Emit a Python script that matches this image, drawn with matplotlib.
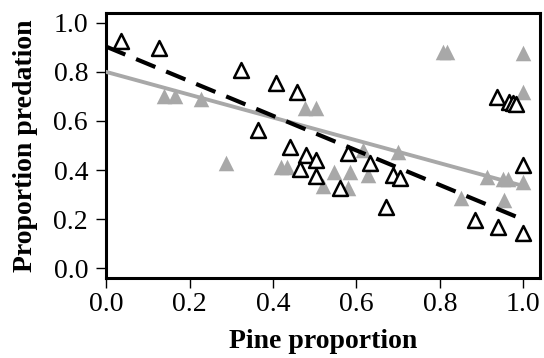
import numpy as np
import matplotlib
matplotlib.use("Agg")
import matplotlib.pyplot as plt

plt.rcParams["font.family"] = ["Liberation Serif", "DejaVu Serif"]

# open triangles
open_x = [0.036, 0.128, 0.324, 0.408, 0.458, 0.364, 0.440, 0.478, 0.502, 0.466,
          0.502, 0.581, 0.632, 0.560, 0.688, 0.704, 0.670,
          0.936, 0.965, 0.975, 0.982, 1.000, 0.884, 0.940, 1.000]
open_y = [0.924, 0.898, 0.808, 0.754, 0.720, 0.563, 0.493, 0.461, 0.441, 0.404,
          0.376, 0.471, 0.427, 0.325, 0.380, 0.366, 0.250,
          0.699, 0.679, 0.672, 0.669, 0.420, 0.196, 0.169, 0.142]

# filled grey triangles
fill_x = [0.140, 0.164, 0.228, 0.288, 0.476, 0.502, 0.419, 0.433,
          0.546, 0.584, 0.519, 0.580, 0.628, 0.616, 0.700,
          0.808, 0.817, 1.000, 1.000, 0.912, 0.952, 0.964, 1.000, 0.850, 0.953]
fill_y = [0.702, 0.702, 0.689, 0.430, 0.652, 0.652, 0.413, 0.413,
          0.393, 0.393, 0.333, 0.325, 0.380, 0.482, 0.475,
          0.883, 0.883, 0.876, 0.720, 0.370, 0.362, 0.362, 0.352, 0.284, 0.278]

# fitted lines (intercept, slope)
open_fit = (0.903, -0.705)
fill_fit = (0.800, -0.465)

grey = "#a8a8a8"

fig = plt.figure(figsize=(5.44, 3.58), dpi=100)
ax = fig.add_axes([0.195, 0.2235, 0.7976, 0.7402])

ax.scatter(fill_x, fill_y, marker="^", s=125, color=grey, linewidths=0, zorder=2)
ax.scatter(open_x, open_y, marker="^", s=115, facecolors="white",
           edgecolors="black", linewidths=1.8, zorder=3)

xs = np.array([0.0, 1.0])
ax.plot(xs, fill_fit[0] + fill_fit[1] * xs, color=grey, lw=2.8, zorder=4)
ax.plot(xs, open_fit[0] + open_fit[1] * xs, color="black", lw=3.0,
        dashes=(5.0, 2.8), zorder=5)

ax.set_xlim(0, 1.04)
ax.set_ylim(-0.04, 1.04)
ax.set_xticks([0.0, 0.2, 0.4, 0.6, 0.8, 1.0])
ax.set_yticks([0.0, 0.2, 0.4, 0.6, 0.8, 1.0])
ax.set_xticklabels(["0.0", "0.2", "0.4", "0.6", "0.8", "1.0"])
ax.set_yticklabels(["0.0", "0.2", "0.4", "0.6", "0.8", "1.0"])
ax.tick_params(direction="out", length=7, width=1, labelsize=20, pad=3)
ax.tick_params(axis="y", pad=6)
for sp in ax.spines.values():
    sp.set_linewidth(2.2)

ax.set_xlabel("Pine proportion", fontsize=20, fontweight="bold", labelpad=9)
ax.set_ylabel("Proportion predation", fontsize=20, fontweight="bold", labelpad=11)

fig.savefig("out.png", dpi=100)
